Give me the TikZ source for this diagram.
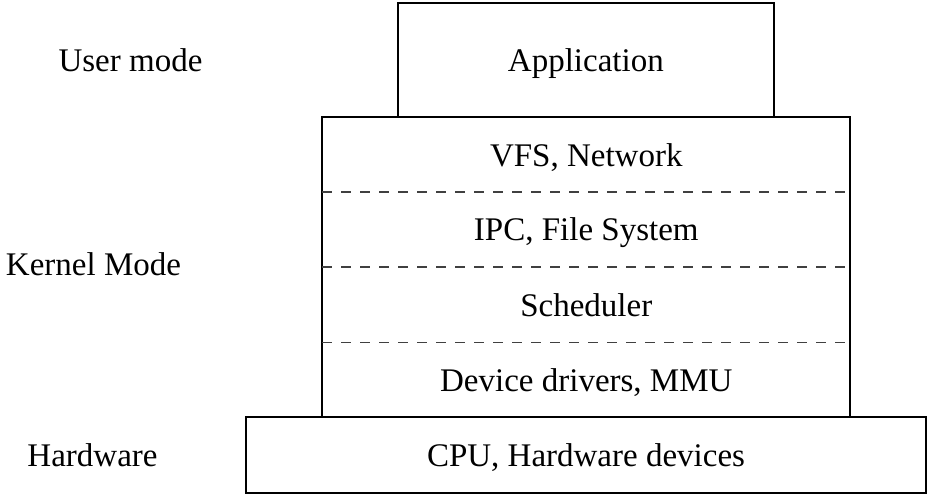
\documentclass[tikz,border=0pt]{standalone}
\usepackage{fontspec}
\setmainfont{Liberation Serif}
\begin{document}
\begin{tikzpicture}[x=1pt,y=-1pt,
  box/.style={draw, line width=2pt, inner sep=0pt, outer sep=0pt},
  lbl/.style={font=\fontsize{33}{40}\selectfont, anchor=base, inner sep=0pt},
  sep/.style={dash pattern=on 10pt off 9pt, line width=1.1pt, black!75}]
\useasboundingbox (0,0) rectangle (928,495);

% layer boxes
\node[box, minimum width=375.7pt, minimum height=114pt] (app) at (585.85,60) {};
\node[box, minimum width=528pt, minimum height=300pt] (kernel) at (586.3,267) {};
\node[box, minimum width=680.6pt, minimum height=75.5pt] (hw) at (586,454.75) {};

% separators inside the kernel block
\coordinate (s1) at (0,192);
\coordinate (s2) at (0,267);
\coordinate (s3) at (0,342.5);
\draw[sep] (kernel.west |- s1) -- (kernel.east |- s1);
\draw[sep] (kernel.west |- s2) -- (kernel.east |- s2);
\draw[sep] (kernel.west |- s3) -- (kernel.east |- s3);

% box contents
\node[lbl] (tapp) at (585.85,71) {Application};
\node[lbl] (tvfs) at (586.3,166) {VFS, Network};
\node[lbl] (tipc) at (586.3,240.5) {IPC, File System};
\node[lbl] (tsch) at (586.3,316) {Scheduler};
\node[lbl] (tdev) at (586.3,391) {Device drivers, MMU};
\node[lbl] (thw) at (586,466) {CPU, Hardware devices};

% mode labels
\node[lbl] (user) at (130.5,71) {User mode};
\node[lbl] (kmode) at (93.5,275) {Kernel Mode};
\node[lbl] (hwlbl) at (92.5,466) {Hardware};
\end{tikzpicture}
\end{document}
